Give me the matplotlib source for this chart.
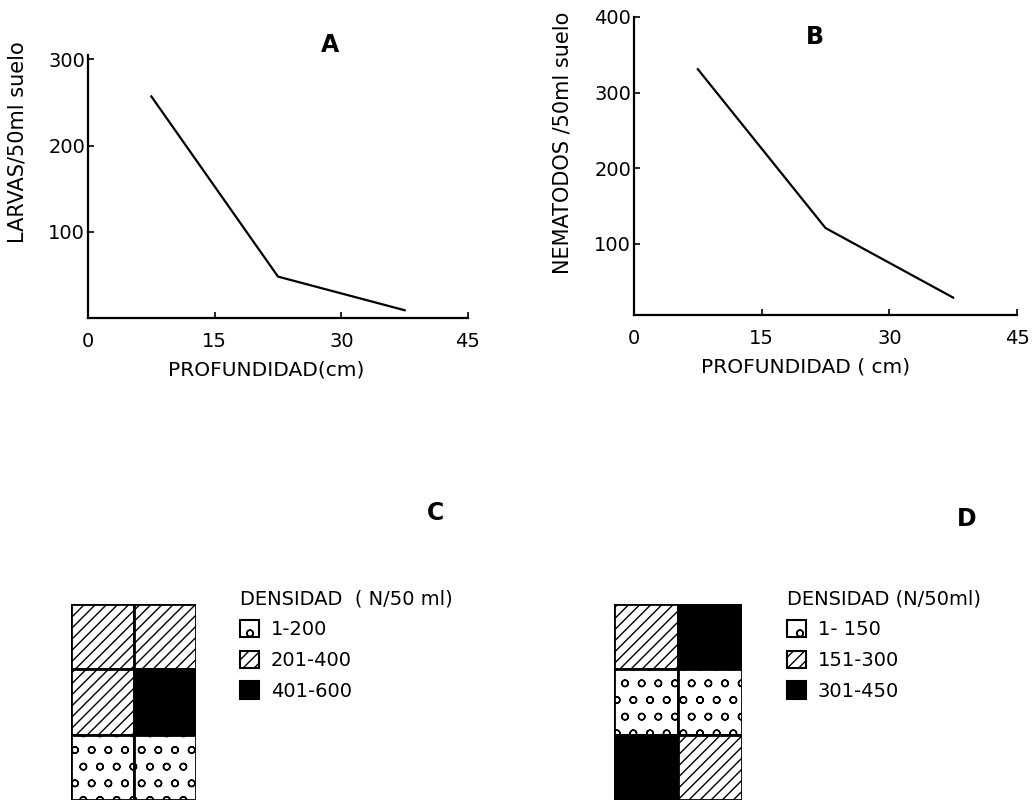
import matplotlib
matplotlib.use("Agg")
import matplotlib.pyplot as plt
from matplotlib.patches import Rectangle, Patch

plt.rcParams['font.family'] = ['DejaVu Sans']
plt.rcParams['hatch.linewidth'] = 1.0

# ---- data ----
depth = [7.5, 22.5, 37.5]
larvas = [257, 48, 9]
nematodos = [331, 121, 29]
x_ticks = [0, 15, 30, 45]
a_yticks = [100, 200, 300]
b_yticks = [100, 200, 300, 400]

classes_c = ['1-200', '201-400', '401-600']
grid_c = [[1, 1], [1, 2], [0, 0]]      # rows top->bottom, class index
classes_d = ['1- 150', '151-300', '301-450']
grid_d = [[1, 2], [0, 0], [2, 1]]

W, H = 1032, 800
fig = plt.figure(figsize=(W / 100, H / 100), dpi=100)

def box(x0, y0, x1, y1):
    return [x0 / W, 1 - y1 / H, (x1 - x0) / W, (y1 - y0) / H]

def line_panel(x0, y0, x1, y1, y, ylim, yticks, ylabel, ylabel_xy,
               xlabel, xlabel_xy, title, title_xy):
    ax = fig.add_axes(box(x0, y0, x1, y1))
    ax.plot(depth, y, color='black', lw=1.6)
    ax.set_xlim(0, 45)
    ax.set_ylim(*ylim)
    ax.set_xticks(x_ticks)
    ax.set_yticks(yticks)
    for s in ['top', 'right']:
        ax.spines[s].set_visible(False)
    for s in ['left', 'bottom']:
        ax.spines[s].set_linewidth(1.6)
    ax.tick_params(axis='both', labelsize=14, direction='in', length=4, width=1.2)
    ax.tick_params(axis='x', pad=10)
    ax.tick_params(axis='y', pad=2)
    ax.set_ylabel(ylabel, fontsize=15)
    ax.set_xlabel(xlabel, fontsize=14.5)
    ax.yaxis.set_label_coords((ylabel_xy[0] - x0) / (x1 - x0),
                              (y1 - ylabel_xy[1]) / (y1 - y0))
    ax.xaxis.set_label_coords((xlabel_xy[0] - x0) / (x1 - x0),
                              (y1 - xlabel_xy[1]) / (y1 - y0))
    ax.yaxis.label.set_va('center')
    ax.xaxis.label.set_va('center')
    fig.text(title_xy[0] / W, 1 - title_xy[1] / H, title, fontsize=17,
             fontweight='bold', ha='center', va='center')
    return ax

line_panel(88, 55, 468, 318, larvas, (0, 305), a_yticks,
           'LARVAS/50ml suelo', (18, 142), 'PROFUNDIDAD(cm)', (266, 370),
           'A', (330, 45))
line_panel(634, 17, 1017, 315, nematodos, (6, 400), b_yticks,
           'NEMATODOS /50ml suelo', (563, 143), 'PROFUNDIDAD ( cm)', (806, 367),
           'B', (815, 37))

styles = [dict(facecolor='white', hatch='o'),
          dict(facecolor='white', hatch='///'),
          dict(facecolor='black', hatch=None)]

def grid_panel(rect, grid, classes, title, title_xy, legend_xy, legend_title):
    ax = fig.add_axes(rect)
    nrows = len(grid)
    ncols = len(grid[0])
    for r, row in enumerate(grid):
        for c, k in enumerate(row):
            st = styles[k]
            ax.add_patch(Rectangle((c, nrows - 1 - r), 1, 1,
                                   facecolor=st['facecolor'], hatch=st['hatch'],
                                   edgecolor='black', lw=2.0))
    ax.set_xlim(0, ncols)
    ax.set_ylim(0, nrows)
    ax.axis('off')
    fig.text(title_xy[0] / W, 1 - title_xy[1] / H, title, fontsize=17,
             fontweight='bold', ha='center', va='center')
    handles = [Patch(facecolor=styles[i]['facecolor'], hatch=styles[i]['hatch'],
                     edgecolor='black', lw=1.5, label=classes[i])
               for i in range(len(classes))]
    fig.legend(handles=handles, title=legend_title, loc='upper left',
               bbox_to_anchor=(legend_xy[0] / W, 1 - legend_xy[1] / H),
               frameon=False, fontsize=14, title_fontsize=14,
               handlelength=1.0, handleheight=1.0, handletextpad=0.6,
               labelspacing=0.58, alignment='left', borderpad=0)
    return ax

grid_panel(box(71, 604, 196, 800), grid_c, classes_c, 'C', (435, 513),
           (230, 580), 'DENSIDAD  ( N/50 ml)')
grid_panel(box(614, 604, 742, 800), grid_d, classes_d, 'D', (967, 519),
           (777, 580), 'DENSIDAD (N/50ml)')

fig.savefig('out.png', dpi=100, facecolor='white')
